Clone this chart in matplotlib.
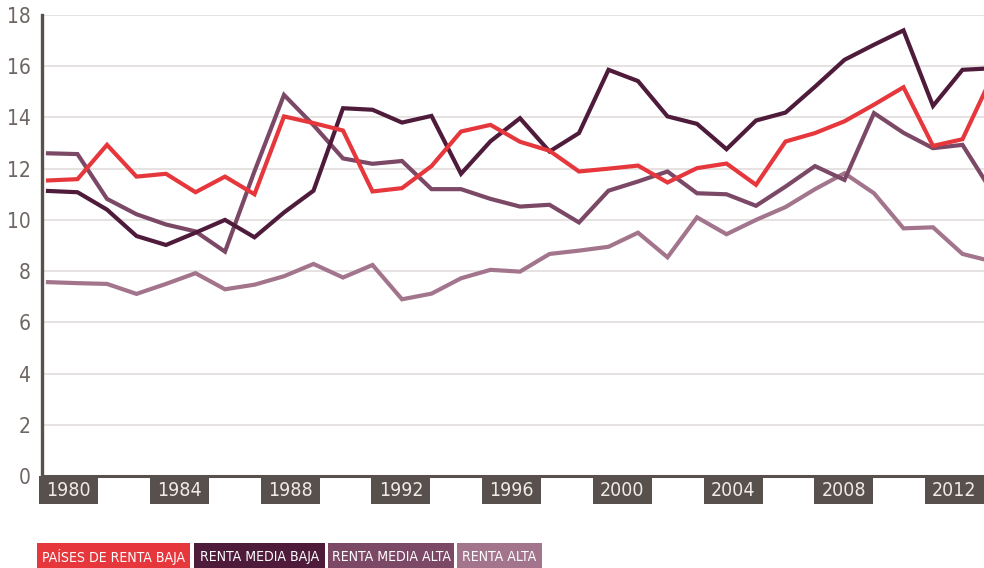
import os
import matplotlib
matplotlib.use("Agg")
import matplotlib.pyplot as plt
from matplotlib import font_manager as fm
from matplotlib.patches import Rectangle

# ---------------- data ----------------
years = list(range(1980, 2013))
renta_baja = [11.54, 11.59, 12.93, 11.69, 11.80, 11.08, 11.69, 11.00, 14.04, 13.78,
              13.49, 11.11, 11.24, 12.10, 13.45, 13.71, 13.05, 12.70, 11.89, 12.00,
              12.12, 11.46, 12.02, 12.20, 11.37, 13.06, 13.39, 13.85, 14.50, 15.18,
              12.89, 13.15, 15.60]
media_baja = [11.13, 11.08, 10.40, 9.37, 9.02, 9.50, 10.00, 9.32, 10.29, 11.14,
              14.36, 14.30, 13.80, 14.06, 11.80, 13.07, 13.97, 12.67, 13.39, 15.86,
              15.42, 14.04, 13.75, 12.76, 13.88, 14.19, 15.20, 16.25, 16.84, 17.40,
              14.45, 15.86, 15.92]
media_alta = [12.60, 12.57, 10.82, 10.22, 9.82, 9.55, 8.76, 11.90, 14.88, 13.70,
              12.40, 12.19, 12.30, 11.20, 11.20, 10.82, 10.52, 10.59, 9.90, 11.14,
              11.50, 11.89, 11.04, 11.00, 10.55, 11.30, 12.10, 11.56, 14.17, 13.40,
              12.80, 12.93, 11.10]
renta_alta = [7.57, 7.53, 7.50, 7.11, 7.50, 7.92, 7.29, 7.47, 7.80, 8.28,
              7.75, 8.24, 6.90, 7.12, 7.72, 8.05, 7.98, 8.67, 8.80, 8.95,
              9.50, 8.54, 10.10, 9.44, 10.00, 10.50, 11.20, 11.82, 11.04, 9.67,
              9.71, 8.67, 8.38]
year_labels = ["1980", "1984", "1988", "1992", "1996", "2000", "2004", "2008", "2012"]
y_ticks = [0, 2, 4, 6, 8, 10, 12, 14, 16, 18]
legend_labels = ["PAÍSES DE RENTA BAJA", "RENTA MEDIA BAJA", "RENTA MEDIA ALTA", "RENTA ALTA"]

# ---------------- style ----------------
C_RED = "#e6373d"
C_DARK = "#4e1b3b"
C_MID = "#7b4866"
C_LIGHT = "#a3758d"
C_AXIS = "#57504c"
C_GRID = "#dedad9"
C_TICK = "#6e6662"


def font_by_file(patterns):
    files = {os.path.basename(f.fname): f.fname for f in fm.fontManager.ttflist}
    for p in patterns:
        for base, path in files.items():
            if base.startswith(p):
                return fm.FontProperties(fname=path)
    names = {f.name for f in fm.fontManager.ttflist}
    if "Liberation Sans Narrow" in names:
        return fm.FontProperties(family="Liberation Sans Narrow")
    return fm.FontProperties(family="DejaVu Sans", stretch="condensed")


FP_TICK = font_by_file(["NotoSans-Condensed.", "NotoSans-SemiCondensed.",
                        "LiberationSansNarrow-Regular", "DejaVuSansCondensed."])
FP_LEG = font_by_file(["NotoSans-ExtraCondensedMedium", "NotoSans-ExtraCondensed.",
                       "NotoSans-Condensed.", "LiberationSansNarrow-Regular",
                       "DejaVuSansCondensed."])

W, H = 984, 568
fig = plt.figure(figsize=(W / 100, H / 100), dpi=100)
fig.patch.set_facecolor("white")


def fx(px):
    return px / W


def fy(py):
    return 1 - py / H


ax_left, ax_right, ax_top, ax_bot = 41.5, 984, 15, 476
ax = fig.add_axes([fx(ax_left), fy(ax_bot), fx(ax_right - ax_left), (ax_bot - ax_top) / H])
ax.set_facecolor("white")

x_per_year = 29.5
x0_px = 48
ax.set_xlim(1980 - (x0_px - ax_left) / x_per_year, 1980 + (ax_right - x0_px) / x_per_year)
ax.set_ylim(0, 18)

for v in y_ticks[1:]:
    ax.axhline(v, color=C_GRID, lw=1.1, zorder=1)

series = [(renta_alta, C_LIGHT), (media_alta, C_MID), (media_baja, C_DARK), (renta_baja, C_RED)]
for i, (vals, col) in enumerate(series):
    ax.plot(years, vals, color=col, lw=3.0, solid_joinstyle="miter", zorder=3 + i, clip_on=True)

for s in ["top", "right", "bottom"]:
    ax.spines[s].set_visible(False)
ax.spines["left"].set_color(C_AXIS)
ax.spines["left"].set_linewidth(2.4)
ax.axhline(0, color=C_AXIS, lw=2.2, zorder=10, clip_on=False)

ax.set_yticks(y_ticks)
ax.set_yticklabels([str(v) for v in y_ticks])
for t in ax.get_yticklabels():
    t.set_fontproperties(FP_TICK)
    t.set_fontsize(15)
    t.set_color(C_TICK)
ax.tick_params(axis="y", length=0, pad=8)
ax.set_xticks([])

# year label boxes
box_w, box_h = 59, 28
for i, lab in enumerate(year_labels):
    left = 39.3 + i * 110.7
    fig.patches.append(Rectangle((fx(left), fy(ax_bot + box_h)), fx(box_w), box_h / H,
                                 transform=fig.transFigure, facecolor=C_AXIS,
                                 edgecolor="none", zorder=5))
    fig.text(fx(left + box_w / 2), fy(ax_bot + box_h / 2 + 0.5), lab, color="#efebe7",
             fontproperties=FP_TICK, fontsize=14, ha="center", va="center", zorder=6)

# legend boxes
leg_boxes = [(36.7, 190), (194, 325), (328, 454), (457, 542)]
leg_cols = [C_RED, C_DARK, C_MID, C_LIGHT]
leg_texts = []
for (l, r), col, lab in zip(leg_boxes, leg_cols, legend_labels):
    fig.patches.append(Rectangle((fx(l), 0), fx(r - l), (H - 543) / H,
                                 transform=fig.transFigure, facecolor=col,
                                 edgecolor="none", zorder=5))
    t = fig.text(fx((l + r) / 2), fy(557), lab, color="white", fontproperties=FP_LEG,
                 fontsize=16, ha="center", va="center", zorder=6)
    leg_texts.append((t, r - l))

renderer = fig.canvas.get_renderer()
scale = min(1.0, min((bw - 6) / t.get_window_extent(renderer).width for t, bw in leg_texts))
for t, bw in leg_texts:
    t.set_fontsize(16 * scale)

fig.savefig("out.png", dpi=100, facecolor="white")
